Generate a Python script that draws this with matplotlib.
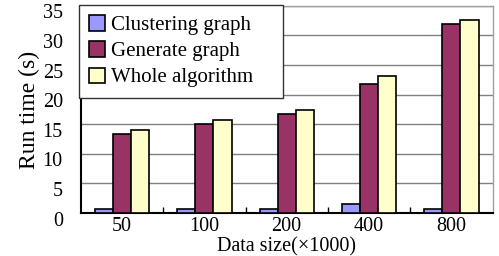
import numpy as np
import matplotlib
matplotlib.use('Agg')
import matplotlib.pyplot as plt
from matplotlib.transforms import ScaledTranslation

plt.rcParams['font.family'] = ['Liberation Serif', 'DejaVu Serif']

sizes = ['50', '100', '200', '400', '800']
clustering = [0.7, 0.7, 0.7, 1.5, 0.7]
generate = [13.3, 15.0, 16.7, 21.8, 32.0]
whole = [14.0, 15.7, 17.4, 23.2, 32.6]

fig = plt.figure(figsize=(4.99, 2.56), dpi=100)
ax = fig.add_axes([0.162, 0.168, 0.825, 0.809])

x = np.arange(len(sizes))
w = 0.22
ax.bar(x - w, clustering, w, color='#9999FF', edgecolor='black', linewidth=1.2,
       label='Clustering graph', zorder=3)
ax.bar(x, generate, w, color='#993366', edgecolor='black', linewidth=1.2,
       label='Generate graph', zorder=3)
ax.bar(x + w, whole, w, color='#FFFFCC', edgecolor='black', linewidth=1.2,
       label='Whole algorithm', zorder=3)

ax.set_xlim(-0.5, len(sizes) - 0.5)
ax.set_ylim(0, 35)
ax.set_yticks(range(0, 36, 5))
ax.set_xticks(x)
ax.set_xticklabels(sizes)
ax.set_xticks(np.arange(0.5, len(sizes) - 0.5), minor=True)
ax.tick_params(axis='x', which='major', length=0, labelsize=14.5, pad=3)
ax.tick_params(axis='x', which='minor', direction='in', length=4, width=1)
ax.tick_params(axis='y', length=0, labelsize=14.5, pad=13)

# labels in the original sit a little below their gridlines
shift = ScaledTranslation(0, -4 / 72, fig.dpi_scale_trans)
for lab in ax.get_yticklabels():
    lab.set_transform(lab.get_transform() + shift)

ax.yaxis.grid(True, color='#808080', linewidth=1, zorder=0)
ax.set_axisbelow(True)
for s in ['top', 'right']:
    ax.spines[s].set_color('#A0A0A0')
    ax.spines[s].set_linewidth(1)
for s in ['left', 'bottom']:
    ax.spines[s].set_color('black')
    ax.spines[s].set_linewidth(1.5)

ax.set_ylabel('Run time (s)', fontsize=17, labelpad=2)
ax.set_xlabel('Data size(\u00d71000)', fontsize=14.5, labelpad=1)

leg = ax.legend(loc='upper left', bbox_to_anchor=(-0.005, 0, 0.495, 1.005),
                mode='expand', fontsize=15, frameon=True, fancybox=False,
                borderaxespad=0.0, handlelength=0.75, handleheight=0.75,
                handletextpad=0.3, labelspacing=0.3, borderpad=0.5)
leg.get_frame().set_edgecolor('#333333')
leg.get_frame().set_linewidth(1)
leg.get_frame().set_alpha(1)
leg.set_zorder(5)

fig.savefig('out.png', dpi=100)
